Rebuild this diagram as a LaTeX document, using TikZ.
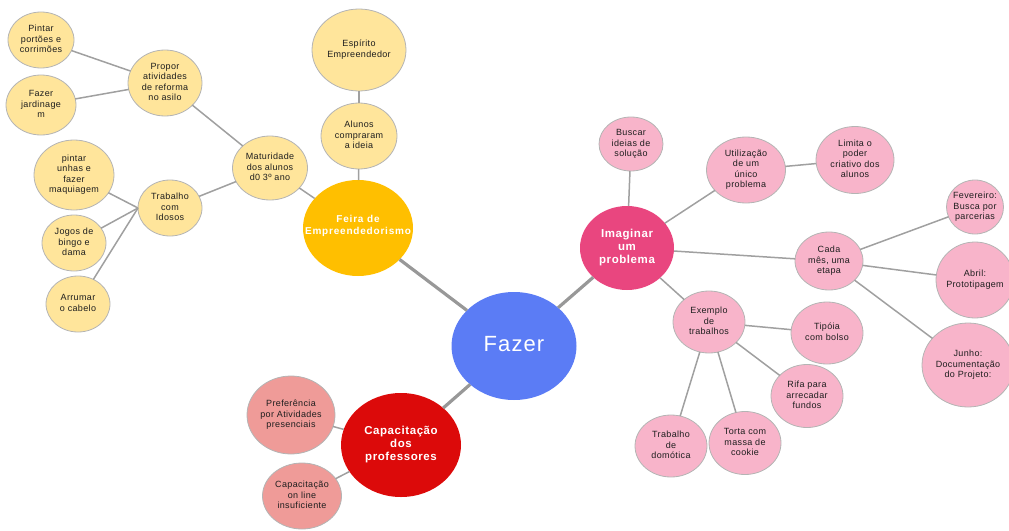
\documentclass[tikz,border=0pt]{standalone}
\usepackage{fontspec}
\usetikzlibrary{shapes.geometric}
\setmainfont{Liberation Sans}
\newfontfamily\labf{Liberation Sans}[LetterSpace=4]
\newfontfamily\labhub{Liberation Sans}[LetterSpace=5]
\newfontfamily\labwide{Liberation Sans}[LetterSpace=8]
\newfontfamily\labbig{Liberation Sans}[LetterSpace=5]

\definecolor{fazerblue}{HTML}{5B7CF5}
\definecolor{feiraamber}{HTML}{FFBF00}
\definecolor{imagpink}{HTML}{E9467F}
\definecolor{capred}{HTML}{DC0A0A}
\definecolor{lightyellow}{HTML}{FFE59B}
\definecolor{lightpink}{HTML}{F8B4CA}
\definecolor{lightrose}{HTML}{EF9B98}
\definecolor{bordergray}{HTML}{B4B4B4}
\definecolor{linegray}{HTML}{A0A0A0}
\definecolor{maingray}{HTML}{989898}
\definecolor{inkdark}{HTML}{1E1E1E}

% centred multi-line label that does not change the bubble size
\newcommand{\ctext}[1]{\smash{\raisebox{-0.25em}{\makebox[0pt]{\begin{tabular}{@{}c@{}}#1\end{tabular}}}}}

\tikzset{
  bub/.style={ellipse, inner sep=0pt, outer sep=0pt},
  sz/.style 2 args={minimum width=#1, minimum height=#2},
  small/.style={bub, draw=bordergray, line width=0.8pt, text=inkdark,
                font=\labf\fontsize{9}{10.3}\selectfont},
  yel/.style={small, fill=lightyellow},
  pnk/.style={small, fill=lightpink},
  rose/.style={small, fill=lightrose},
  hub/.style={bub, text=white, font=\labhub\bfseries\fontsize{11.5}{13}\selectfont},
  link/.style={draw=linegray, line width=1.5pt},
  mainlink/.style={draw=maingray, line width=3.2pt},
}

\begin{document}
\begin{tikzpicture}[x=1pt, y=-1pt]
\useasboundingbox (0,0) rectangle (1009,530);
\clip (0,0) rectangle (1009,530);

% central topic
\node[bub, fill=fazerblue, text=white, font=\labbig\fontsize{22}{26}\selectfont, sz={125}{108}] (fazer) at (514,346) {\ctext{Fazer}};

% main branches
\node[bub, fill=feiraamber, text=white, font=\labwide\bfseries\fontsize{10}{11.5}\selectfont, sz={110}{96}] (feira) at (358,228) {\raisebox{0.35em}{\ctext{Feira de\\Empreendedorismo}}};
\node[hub, fill=imagpink, sz={94}{84}] (imag) at (627,248) {\ctext{Imaginar\\um\\problema}};
\node[hub, fill=capred, sz={120}{104}] (capac) at (401,445) {\ctext{Capacitação\\dos\\professores}};

% Feira de Empreendedorismo
\node[yel, sz={94}{82}] (espirito) at (359,50) {\ctext{Espírito\\Empreendedor}};
\node[yel, sz={76}{66}] (alunos) at (359,136) {\ctext{Alunos\\compraram\\a ideia}};
\node[yel, sz={75}{64}] (matur) at (270,168) {\ctext{Maturidade\\dos alunos\\d0 3º ano}};
\node[yel, sz={74}{66}] (propor) at (165,83) {\ctext{Propor\\atividades\\de reforma\\no asilo}};
\node[yel, sz={66}{56}] (portoes) at (41,40) {\ctext{Pintar\\portões e\\corrimões}};
\node[yel, sz={70}{60}] (jardim) at (41,105) {\ctext{Fazer\\jardinage\\m}};
\node[yel, sz={64}{56}] (idosos) at (170,208) {\ctext{Trabalho\\com\\Idosos}};
\node[yel, sz={80}{70}] (unhas) at (74,175) {\ctext{pintar\\unhas e\\fazer\\maquiagem}};
\node[yel, sz={64}{56}] (jogos) at (74,243) {\ctext{Jogos de\\bingo e\\dama}};
\node[yel, sz={64}{56}] (cabelo) at (78,304) {\ctext{Arrumar\\o cabelo}};

% Imaginar um problema
\node[pnk, sz={64}{54}] (buscar) at (631,144) {\ctext{Buscar\\ideias de\\solução}};
\node[pnk, sz={79}{66}] (utiliz) at (746,170) {\ctext{Utilização\\de um\\único\\problema}};
\node[pnk, sz={78}{67}] (limita) at (855,160) {\ctext{Limita o\\poder\\criativo dos\\alunos}};
\node[pnk, sz={68}{58}] (cada) at (829,261) {\ctext{Cada\\mês, uma\\etapa}};
\node[pnk, sz={57}{54}] (fev) at (975,207) {\ctext{Fevereiro:\\Busca por\\parcerias}};
\node[pnk, sz={78}{76}] (abril) at (975,280) {\ctext{Abril:\\Prototipagem}};
\node[pnk, sz={92}{84}] (junho) at (968,365) {\ctext{Junho:\\Documentação\\do Projeto:}};
\node[pnk, sz={72}{62}] (exemplo) at (709,322) {\ctext{Exemplo\\de\\trabalhos}};
\node[pnk, sz={72}{62}] (tipoia) at (827,333) {\ctext{Tipóia\\com bolso}};
\node[pnk, sz={72}{63}] (rifa) at (807,396) {\ctext{Rifa para\\arrecadar\\fundos}};
\node[pnk, sz={72}{62}] (domotica) at (671,446) {\ctext{Trabalho\\de\\domótica}};
\node[pnk, sz={72}{63}] (torta) at (745,443) {\ctext{Torta com\\massa de\\cookie}};

% Capacitação dos professores
\node[rose, sz={88}{78}] (prefer) at (291,415) {\ctext{Preferência\\por Atividades\\presenciais}};
\node[rose, sz={79}{66}] (online) at (302,496) {\ctext{Capacitação\\on line\\insuficiente}};

% connectors
\draw[mainlink] (fazer) -- (feira);
\draw[mainlink] (fazer) -- (imag);
\draw[mainlink] (fazer) -- (capac);

\draw[link] (feira) -- (alunos);
\draw[link] (alunos) -- (espirito);
\draw[link] (feira) -- (matur);
\draw[link] (matur) -- (propor);
\draw[link] (propor) -- (portoes);
\draw[link] (propor) -- (jardim);
\draw[link] (matur) -- (idosos);
\draw[link] (unhas) -- (idosos.west);
\draw[link] (jogos) -- (idosos.west);
\draw[link] (cabelo) -- (idosos.west);

\draw[link] (imag) -- (buscar);
\draw[link] (imag) -- (utiliz);
\draw[link] (utiliz) -- (limita);
\draw[link] (imag) -- (cada);
\draw[link] (cada) -- (fev);
\draw[link] (cada) -- (abril);
\draw[link] (cada) -- (junho);
\draw[link] (imag) -- (exemplo);
\draw[link] (exemplo) -- (tipoia);
\draw[link] (exemplo) -- (rifa);
\draw[link] (exemplo) -- (domotica);
\draw[link] (exemplo) -- (torta);

\draw[link] (capac) -- (prefer);
\draw[link] (capac) -- (online);
\end{tikzpicture}
\end{document}
